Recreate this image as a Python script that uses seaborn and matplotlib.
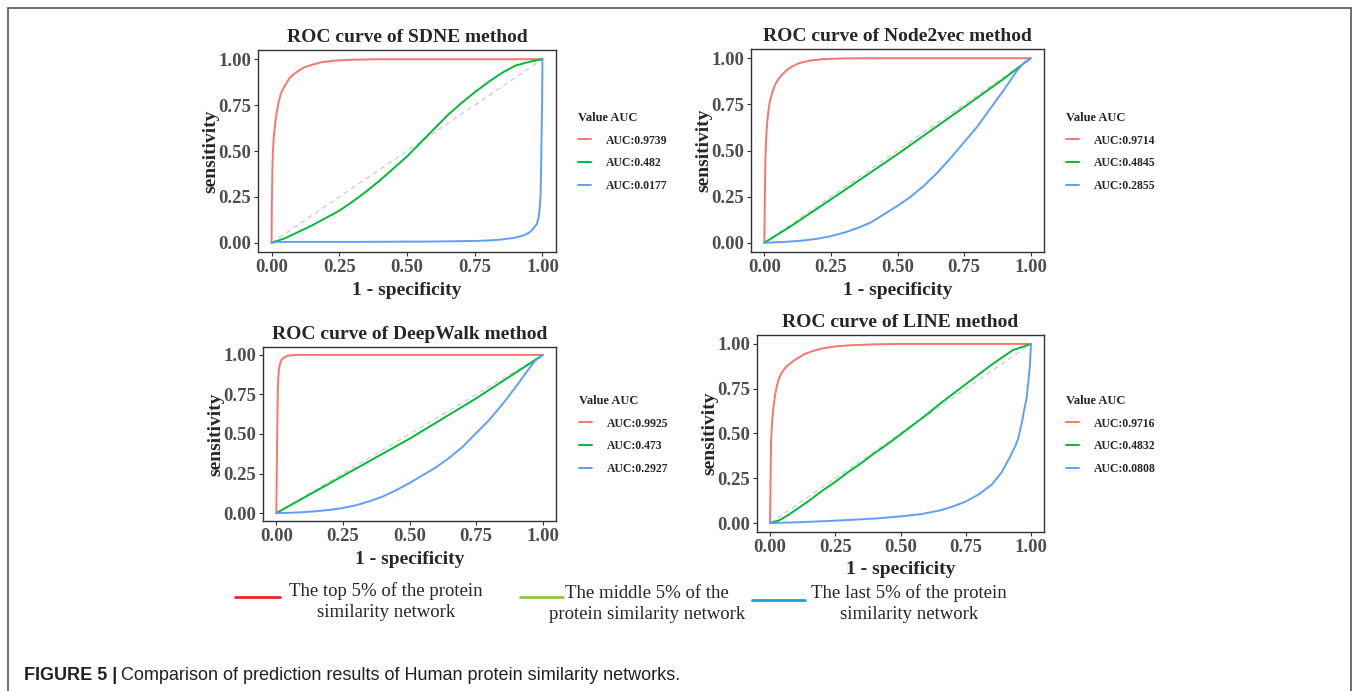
import pandas as pd
import numpy as np
import seaborn as sns
import matplotlib.pyplot as plt
from matplotlib.lines import Line2D
from matplotlib.patches import Rectangle

sns.set_style("ticks")
plt.rcParams['font.family'] = ['Liberation Serif', 'DejaVu Serif']
plt.rcParams['font.weight'] = 'bold'

# Datos (1 - especificidad, sensibilidad)
sdne_top_x = [0, 0.001, 0.003, 0.005, 0.008, 0.012, 0.018, 0.025, 0.035, 0.045, 0.055, 0.068, 0.085, 0.1, 0.12, 0.15, 0.19, 0.24, 0.3, 0.4, 1]
sdne_top_y = [0, 0.2, 0.4, 0.5, 0.57, 0.63, 0.7, 0.76, 0.815, 0.845, 0.87, 0.9, 0.922, 0.937, 0.955, 0.97, 0.985, 0.993, 0.997, 1, 1]
sdne_mid_x = [0, 0.05, 0.1, 0.15, 0.2, 0.25, 0.3, 0.35, 0.4, 0.45, 0.5, 0.55, 0.6, 0.65, 0.7, 0.75, 0.8, 0.85, 0.9, 0.95, 1]
sdne_mid_y = [0, 0.025, 0.06, 0.095, 0.135, 0.175, 0.225, 0.28, 0.34, 0.405, 0.47, 0.545, 0.62, 0.695, 0.76, 0.82, 0.875, 0.925, 0.965, 0.985, 1]
sdne_low_x = [0, 0.02, 0.3, 0.6, 0.75, 0.8, 0.85, 0.9, 0.93, 0.95, 0.965, 0.978, 0.985, 0.99, 0.993, 0.995, 0.997, 0.999, 1]
sdne_low_y = [0, 0.005, 0.005, 0.007, 0.01, 0.013, 0.018, 0.028, 0.04, 0.055, 0.075, 0.1, 0.13, 0.19, 0.26, 0.4, 0.6, 0.8, 1]

n2v_top_x = [0, 0.002, 0.004, 0.007, 0.01, 0.015, 0.02, 0.03, 0.04, 0.05, 0.06, 0.08, 0.1, 0.13, 0.17, 0.22, 0.3, 0.4, 1]
n2v_top_y = [0, 0.25, 0.45, 0.57, 0.64, 0.71, 0.76, 0.815, 0.855, 0.88, 0.9, 0.93, 0.952, 0.973, 0.987, 0.995, 0.999, 1, 1]
n2v_mid_x = [0, 0.1, 0.25, 0.5, 0.75, 0.9, 1]
n2v_mid_y = [0, 0.09, 0.235, 0.48, 0.735, 0.89, 1]
n2v_low_x = [0, 0.05, 0.1, 0.15, 0.2, 0.25, 0.3, 0.35, 0.4, 0.45, 0.5, 0.55, 0.6, 0.65, 0.7, 0.75, 0.8, 0.85, 0.9, 0.95, 0.975, 1]
n2v_low_y = [0, 0.003, 0.007, 0.013, 0.022, 0.036, 0.055, 0.08, 0.11, 0.155, 0.2, 0.25, 0.31, 0.38, 0.46, 0.545, 0.63, 0.73, 0.83, 0.935, 0.975, 1]

dw_top_x = [0, 0.002, 0.004, 0.006, 0.008, 0.01, 0.015, 0.02, 0.03, 0.045, 0.07, 1]
dw_top_y = [0, 0.3, 0.6, 0.8, 0.87, 0.91, 0.95, 0.97, 0.985, 0.995, 1, 1]
dw_mid_x = [0, 0.25, 0.5, 0.75, 0.963, 1]
dw_mid_y = [0, 0.235, 0.47, 0.725, 0.958, 1]
dw_low_x = [0, 0.05, 0.1, 0.15, 0.2, 0.25, 0.3, 0.35, 0.4, 0.45, 0.5, 0.55, 0.6, 0.65, 0.7, 0.75, 0.8, 0.85, 0.9, 0.93, 0.956, 0.97, 1]
dw_low_y = [0, 0.002, 0.006, 0.012, 0.02, 0.032, 0.05, 0.075, 0.105, 0.145, 0.19, 0.24, 0.29, 0.35, 0.42, 0.505, 0.59, 0.69, 0.8, 0.87, 0.93, 0.96, 1]

line_top_x = [0, 0.002, 0.004, 0.008, 0.013, 0.02, 0.027, 0.035, 0.045, 0.06, 0.08, 0.1, 0.134, 0.17, 0.2, 0.25, 0.3, 0.4, 0.5, 1]
line_top_y = [0, 0.25, 0.46, 0.57, 0.645, 0.72, 0.77, 0.81, 0.84, 0.87, 0.895, 0.915, 0.945, 0.963, 0.975, 0.986, 0.992, 0.998, 1, 1]
line_mid_x = [0, 0.035, 0.07, 0.1, 0.15, 0.2, 0.25, 0.3, 0.35, 0.4, 0.45, 0.5, 0.55, 0.6, 0.65, 0.7, 0.75, 0.8, 0.85, 0.9, 0.93, 0.96, 1]
line_mid_y = [0, 0.015, 0.045, 0.075, 0.125, 0.18, 0.23, 0.285, 0.335, 0.39, 0.44, 0.495, 0.55, 0.605, 0.665, 0.72, 0.775, 0.83, 0.885, 0.935, 0.965, 0.98, 1]
line_low_x = [0, 0.1, 0.2, 0.3, 0.4, 0.5, 0.58, 0.65, 0.7, 0.75, 0.8, 0.85, 0.888, 0.92, 0.94, 0.951, 0.965, 0.975, 0.983, 0.99, 0.996, 1]
line_low_y = [0, 0.004, 0.01, 0.017, 0.025, 0.037, 0.05, 0.07, 0.092, 0.12, 0.16, 0.215, 0.284, 0.37, 0.43, 0.471, 0.56, 0.64, 0.695, 0.79, 0.88, 1]

sdne_auc = ['AUC:0.9739', 'AUC:0.482', 'AUC:0.0177']
n2v_auc = ['AUC:0.9714', 'AUC:0.4845', 'AUC:0.2855']
dw_auc = ['AUC:0.9925', 'AUC:0.473', 'AUC:0.2927']
line_auc = ['AUC:0.9716', 'AUC:0.4832', 'AUC:0.0808']

tick_vals = [0, 0.25, 0.5, 0.75, 1]
tick_labels = ['0.00', '0.25', '0.50', '0.75', '1.00']
colores = ['#F8766D', '#00BA38', '#619CFF']

W, H = 1358, 691
fig = plt.figure(figsize=(W / 100, H / 100), dpi=100)


def caja(l, t, r, b):
    return [l / W, 1 - b / H, (r - l) / W, (b - t) / H]


def panel_roc(rect, titulo, curvas, etiquetas, pos_leyenda):
    ax = fig.add_axes(caja(*rect))
    partes = []
    for (x, y), et in zip(curvas, etiquetas):
        partes.append(pd.DataFrame({'fpr': x, 'tpr': y, 'grupo': et}))
    df = pd.concat(partes, ignore_index=True)
    ax.plot([0, 1], [0, 1], ls=(0, (4, 3)), color='#cccccc', lw=0.9, zorder=1)
    sns.lineplot(data=df, x='fpr', y='tpr', hue='grupo', palette=colores,
                 sort=False, estimator=None, lw=1.4, legend=False, ax=ax, zorder=2)
    ax.set_xlim(-0.05, 1.05)
    ax.set_ylim(-0.05, 1.05)
    ax.set_xticks(tick_vals, tick_labels)
    ax.set_yticks(tick_vals, tick_labels)
    ax.tick_params(labelsize=13.5, labelcolor='#4d4d4d', color='#333333',
                   length=3, width=0.8, pad=2)
    for s in ax.spines.values():
        s.set_color('#333333')
        s.set_linewidth(1.0)
    ax.set_title(titulo, fontsize=14, fontweight='bold', pad=6)
    ax.set_xlabel('1 - specificity', fontsize=14, fontweight='bold', labelpad=4)
    ax.set_ylabel('sensitivity', fontsize=14, fontweight='bold', labelpad=-1)
    handles = [Line2D([], [], color=c, lw=1.4) for c in colores]
    lx, ly = pos_leyenda
    leg = ax.legend(handles, etiquetas, title='Value AUC', loc='upper left',
                    bbox_to_anchor=(lx / W, 1 - ly / H), bbox_transform=fig.transFigure,
                    frameon=False, borderpad=0, borderaxespad=0, handlelength=1.1,
                    handletextpad=1.3, labelspacing=0.9,
                    prop={'size': 8.5, 'weight': 'bold'},
                    title_fontproperties={'size': 9, 'weight': 'bold'})
    leg._legend_box.align = 'left'
    return ax


panel_roc((258, 50, 556, 252), 'ROC curve of SDNE method',
          [(sdne_top_x, sdne_top_y), (sdne_mid_x, sdne_mid_y), (sdne_low_x, sdne_low_y)],
          sdne_auc, (578, 112))
panel_roc((751, 49, 1044, 252), 'ROC curve of Node2vec method',
          [(n2v_top_x, n2v_top_y), (n2v_mid_x, n2v_mid_y), (n2v_low_x, n2v_low_y)],
          n2v_auc, (1066, 112))
panel_roc((263, 347, 556, 521), 'ROC curve of DeepWalk method',
          [(dw_top_x, dw_top_y), (dw_mid_x, dw_mid_y), (dw_low_x, dw_low_y)],
          dw_auc, (579, 395))
panel_roc((757, 335, 1044, 532), 'ROC curve of LINE method',
          [(line_top_x, line_top_y), (line_mid_x, line_mid_y), (line_low_x, line_low_y)],
          line_auc, (1066, 395))

# Leyenda inferior
leyenda_inf = [
    ('#e8262a', (235, 280), 597, 'The top 5% of the protein\nsimilarity network', 386, 602),
    ('#8dc63f', (520, 563), 597, 'The middle 5% of the\nprotein similarity network', 647, 604),
    ('#1b9fe0', (752, 805), 600, 'The last 5% of the protein\nsimilarity network', 909, 604),
]
for color, (x0, x1), yy, texto, xc, yc in leyenda_inf:
    fig.add_artist(Line2D([x0 / W, x1 / W], [1 - yy / H, 1 - yy / H], color=color, lw=2,
                          transform=fig.transFigure))
    fig.text(xc / W, 1 - yc / H, texto, ha='center', va='center', fontsize=13.5,
             fontweight='normal', linespacing=1.3)

# Marco y pie de figura
fig.add_artist(Rectangle((8 / W, -0.05), 1343 / W, 1.05 - 8 / H, fill=False,
                         edgecolor='#555555', lw=1.2, transform=fig.transFigure))
t1 = fig.text(24 / W, 1 - 675 / H, 'FIGURE 5 |', ha='left', va='center', fontsize=13,
              fontweight='bold', family=['Liberation Sans', 'DejaVu Sans'], color='#231f20')
fig.canvas.draw()
bb = t1.get_window_extent()
fig.text((bb.x1 + 4) / W, 1 - 675 / H,
         'Comparison of prediction results of Human protein similarity networks.',
         ha='left', va='center', fontsize=13, fontweight='normal',
         family=['Liberation Sans', 'DejaVu Sans'], color='#231f20')

plt.savefig('out.png', dpi=100)
